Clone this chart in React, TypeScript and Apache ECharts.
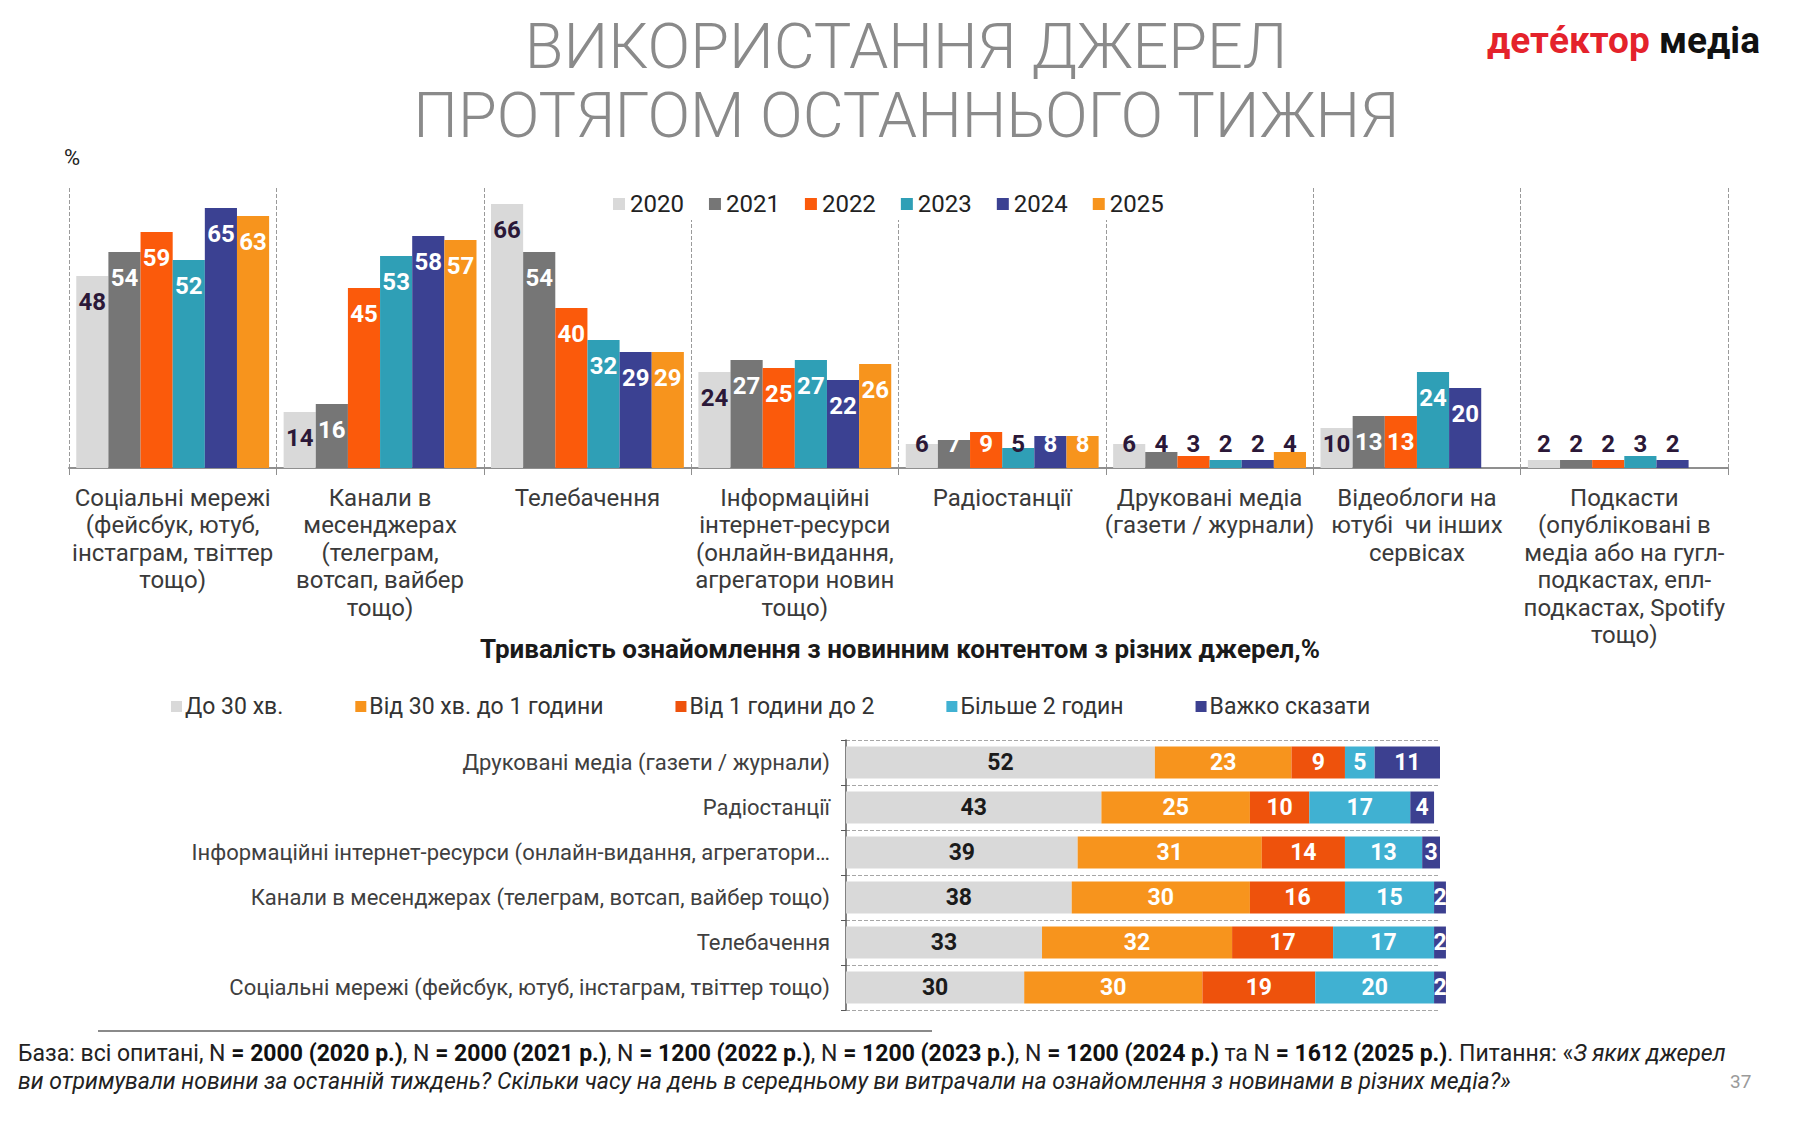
import React, { useEffect, useRef } from "react";
import * as echarts from "echarts";

// ---------- Top chart data ----------
const sourceCategories = [
  "Соціальні мережі\n(фейсбук, ютуб,\nінстаграм, твіттер\nтощо)",
  "Канали в\nмесенджерах\n(телеграм,\nвотсап, вайбер\nтощо)",
  "Телебачення",
  "Інформаційні\nінтернет-ресурси\n(онлайн-видання,\nагрегатори новин\nтощо)",
  "Радіостанції",
  "Друковані медіа\n(газети / журнали)",
  "Відеоблоги на\nютубі  чи інших\nсервісах",
  "Подкасти\n(опубліковані в\nмедіа або на гугл-\nподкастах, епл-\nподкастах, Spotify\nтощо)",
];
const years = ["2020", "2021", "2022", "2023", "2024", "2025"];
const values2020 = [48, 14, 66, 24, 6, 6, 10, 2];
const values2021 = [54, 16, 54, 27, 7, 4, 13, 2];
const values2022 = [59, 45, 40, 25, 9, 3, 13, 2];
const values2023 = [52, 53, 32, 27, 5, 2, 24, 3];
const values2024 = [65, 58, 29, 22, 8, 2, 20, 2];
const values2025 = [63, 57, 29, 26, 8, 4, null, null];
const yearColors = ["#d9d9d9", "#767676", "#fb5a0b", "#2f9fb6", "#3b4192", "#f7941d"];

// ---------- Bottom chart data ----------
const durationCategories = [
  "Друковані медіа (газети / журнали)",
  "Радіостанції",
  "Інформаційні інтернет-ресурси (онлайн-видання, агрегатори…",
  "Канали в месенджерах (телеграм, вотсап, вайбер тощо)",
  "Телебачення",
  "Соціальні мережі (фейсбук, ютуб, інстаграм, твіттер тощо)",
];
const durationNames = [
  "До 30 хв.",
  "Від 30 хв. до 1 години",
  "Від 1 години до 2",
  "Більше 2 годин",
  "Важко сказати",
];
const upTo30 = [52, 43, 39, 38, 33, 30];
const from30to60 = [23, 25, 31, 30, 32, 30];
const from1to2h = [9, 10, 14, 16, 17, 19];
const over2h = [5, 17, 13, 15, 17, 20];
const hardToSay = [11, 4, 3, 2, 2, 2];
const durationColors = ["#d9d9d9", "#f7941d", "#ee520c", "#40b1d2", "#3c4090"];

// ---------- Footnote data ----------
const sampleSizes = ["2000", "2000", "1200", "1200", "1200", "1612"];

const FONT = "Roboto, 'Noto Sans', sans-serif";

export default function App() {
  const ref = useRef<HTMLDivElement>(null);

  useEffect(() => {
    if (!ref.current) return;
    const chart = echarts.init(ref.current, undefined, { renderer: "svg" });

    const topValues = [values2020, values2021, values2022, values2023, values2024, values2025];
    const topSeries = years.map((y, si) => ({
      name: y,
      type: "bar",
      xAxisIndex: 0,
      yAxisIndex: 0,
      barGap: "0%",
      barCategoryGap: "7%",
      itemStyle: { color: yearColors[si] },
      data: topValues[si].map((v) =>
        v === null
          ? null
          : {
              value: v,
              label: {
                show: true,
                position: v < 12 ? "insideBottom" : "insideTop",
                distance: v < 12 ? 12 : 14,
                color: si === 0 || v < 7 ? "#2b1838" : "#ffffff",
                fontSize: 24,
                fontWeight: "bold",
                fontFamily: FONT,
              },
            }
      ),
    }));

    const bottomValues = [upTo30, from30to60, from1to2h, over2h, hardToSay];
    const bottomSeries = durationNames.map((n, si) => ({
      name: n,
      type: "bar",
      stack: "dur",
      xAxisIndex: 1,
      yAxisIndex: 1,
      clip: false,
      barCategoryGap: "29%",
      itemStyle: { color: durationColors[si] },
      label: {
        show: true,
        position: "inside",
        color: si === 0 ? "#1b1b1b" : "#ffffff",
        fontSize: 23,
        fontWeight: "bold",
        fontFamily: FONT,
      },
      data: bottomValues[si],
    }));

    const boldN = sampleSizes.map((n, i) => `{b|= ${n} (${years[i]} р.)}`);
    const footLine1 =
      `{n|База: всі опитані, N }${boldN[0]}{n|, N }${boldN[1]}{n|, N }${boldN[2]}{n|, N }${boldN[3]}{n|, N }${boldN[4]}{n| та N }${boldN[5]}{n|. Питання: «}{i|З яких джерел}`;
    const footLine2 =
      "{i|ви отримували новини за останній тиждень? Скільки часу на день в середньому ви витрачали на ознайомлення з новинами в різних медіа?»}";

    chart.setOption({
      animation: false,
      backgroundColor: "#ffffff",
      textStyle: { fontFamily: FONT },
      grid: [
        { left: 69, right: 72, top: 188, bottom: 657, containLabel: false },
        { left: 846, right: 360, top: 740, bottom: 115, containLabel: false },
      ],
      legend: [
        {
          data: years,
          left: 603,
          top: 188,
          icon: "rect",
          itemWidth: 12,
          itemHeight: 12,
          itemGap: 25,
          backgroundColor: "#ffffff",
          padding: [4, 10],
          textStyle: { fontSize: 24, color: "#222", fontFamily: FONT },
        },
        {
          data: durationNames,
          left: 166,
          top: 690,
          icon: "rect",
          itemWidth: 11,
          itemHeight: 11,
          itemGap: 72,
          textStyle: { fontSize: 23, color: "#333", fontFamily: FONT, padding: [0, 0, 0, -2] },
        },
      ],
      xAxis: [
        {
          type: "category",
          gridIndex: 0,
          data: sourceCategories,
          axisLine: { show: true, lineStyle: { color: "#8f8f8f", width: 2 } },
          axisTick: { show: true, length: 7, lineStyle: { color: "#8f8f8f" } },
          splitLine: { show: true, lineStyle: { type: "dashed", color: "#9a9a9a", width: 1 } },
          axisLabel: {
            interval: 0,
            margin: 16,
            fontSize: 24,
            lineHeight: 27.5,
            color: "#3a3a3a",
            fontFamily: FONT,
            align: "center",
            verticalAlign: "top",
          },
        },
        {
          type: "value",
          gridIndex: 1,
          min: 0,
          max: 100,
          show: false,
          splitLine: { show: false },
        },
      ],
      yAxis: [
        {
          type: "value",
          gridIndex: 0,
          min: 0,
          max: 70,
          show: false,
          splitLine: { show: false },
        },
        {
          type: "category",
          gridIndex: 1,
          inverse: true,
          data: durationCategories,
          axisLine: { show: true, lineStyle: { color: "#595959", width: 1.5 } },
          axisTick: { show: true, length: 5, lineStyle: { color: "#595959" } },
          splitLine: { show: true, lineStyle: { type: "dashed", color: "#a6a6a6", width: 1 } },
          axisLabel: {
            interval: 0,
            margin: 16,
            fontSize: 22,
            color: "#404040",
            fontFamily: FONT,
          },
        },
      ],
      series: [...topSeries, ...bottomSeries],
      graphic: [
        {
          type: "text",
          x: 906,
          y: 12,
          style: {
            text: "ВИКОРИСТАННЯ ДЖЕРЕЛ\nПРОТЯГОМ ОСТАННЬОГО ТИЖНЯ",
            fontSize: 63,
            lineHeight: 69,
            fontWeight: 300,
            fill: "#8a8a8a",
            fontFamily: FONT,
            align: "center",
            verticalAlign: "top",
          },
        },
        {
          type: "text",
          left: 1487,
          top: 22,
          style: {
            text: "{r|детéктор }{k|медіа}",
            rich: {
              r: { fontSize: 37, fontWeight: "bold", fill: "#e4222b", fontFamily: FONT },
              k: { fontSize: 37, fontWeight: "bold", fill: "#111", fontFamily: FONT },
            },
          },
        },
        {
          type: "text",
          left: 64,
          top: 146,
          style: { text: "%", fontSize: 22, fill: "#222", fontFamily: FONT },
        },
        {
          type: "text",
          left: "center",
          top: 636,
          style: {
            text: "Тривалість ознайомлення з новинним контентом з різних джерел,%",
            fontSize: 26,
            fontWeight: "bold",
            fill: "#1a1a1a",
            fontFamily: FONT,
          },
        },
        {
          type: "line",
          shape: { x1: 98, y1: 1031, x2: 932, y2: 1031 },
          style: { stroke: "#8a8a8a", lineWidth: 2 },
        },
        {
          type: "text",
          left: 18,
          top: 1042,
          style: {
            text: footLine1 + "\n" + footLine2,
            rich: {
              n: { fontSize: 23, fill: "#222", fontFamily: FONT, lineHeight: 28 },
              b: { fontSize: 23, fill: "#111", fontWeight: "bold", fontFamily: FONT, lineHeight: 28 },
              i: { fontSize: 23, fill: "#222", fontStyle: "italic", fontFamily: FONT, lineHeight: 28 },
            },
          },
        },
        {
          type: "text",
          left: 1730,
          top: 1072,
          style: { text: "37", fontSize: 19, fill: "#9a9a9a", fontFamily: FONT },
        },
      ],
    });

    return () => chart.dispose();
  }, []);

  return <div ref={ref} style={{ width: 1800, height: 1125, margin: -8 }} />;
}
